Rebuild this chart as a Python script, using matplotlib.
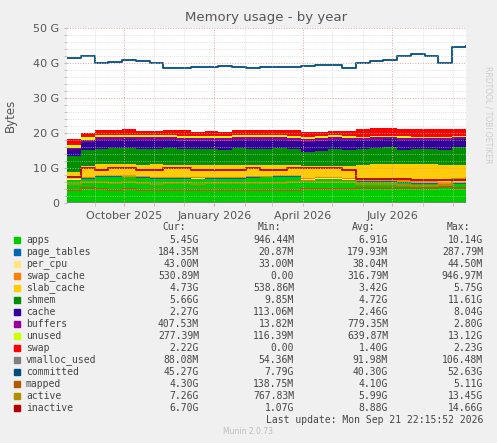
import numpy as np
import pandas as pd
import matplotlib
matplotlib.use("Agg")
import matplotlib.pyplot as plt
import matplotlib.dates as mdates

dates = pd.date_range("2025-08-04", "2026-09-14", freq="14D")  # 30 points

# stacked areas (GB)
apps = [6.5, 7.0, 7.5, 7.5, 7.3, 7.2, 7.0, 7.0, 7.0, 6.8, 7.0, 7.0, 7.0, 7.2, 7.3,
        7.5, 7.5, 6.5, 6.8, 6.8, 6.5, 6.0, 6.0, 6.0, 5.8, 5.5, 5.5, 5.3, 5.4, 5.45]
page_tables = [0.18] * 30
per_cpu = [0.04] * 30
swap_cache = [0.1, 0.3, 0.3, 0.3, 0.35, 0.3, 0.3, 0.35, 0.3, 0.3, 0.3, 0.3, 0.3, 0.3, 0.3,
              0.3, 0.3, 0.3, 0.3, 0.3, 0.35, 0.4, 0.4, 0.4, 0.45, 0.5, 0.5, 0.5, 0.5, 0.53]
slab_cache = [2.0, 3.0, 3.0, 3.2, 3.3, 3.2, 3.5, 3.4, 3.3, 3.5, 3.3, 3.2, 3.3, 3.2, 3.0,
              2.8, 2.8, 3.5, 3.3, 3.3, 3.5, 4.3, 4.5, 4.5, 4.6, 4.8, 4.8, 4.7, 4.8, 4.73]
shmem = [4.5, 4.5, 4.5, 4.5, 4.5, 4.6, 4.5, 4.8, 4.5, 4.6, 4.5, 4.5, 4.8, 4.5, 4.6,
         4.8, 4.5, 4.0, 4.2, 4.8, 4.5, 4.5, 4.5, 4.8, 4.0, 4.5, 4.5, 4.5, 5.0, 5.66]
cache = [2.0, 2.3, 2.5, 2.3, 2.5, 2.4, 2.5, 2.3, 2.5, 2.4, 2.5, 2.5, 2.3, 2.5, 2.5,
         2.3, 2.5, 3.0, 3.0, 2.5, 2.8, 2.5, 2.5, 2.3, 3.0, 2.5, 2.5, 2.8, 2.3, 2.27]
buffers = [0.4, 0.6, 0.8, 0.8, 0.8, 0.8, 0.8, 0.8, 0.8, 0.8, 0.8, 0.8, 0.8, 0.8, 0.8,
           0.8, 0.8, 0.8, 0.8, 0.8, 0.8, 0.6, 0.6, 0.6, 0.6, 0.5, 0.5, 0.5, 0.5, 0.41]
unused = [0.8, 0.8, 0.7, 0.6, 0.6, 0.6, 0.6, 0.6, 0.6, 0.6, 0.6, 0.6, 0.6, 0.6, 0.6,
          0.6, 0.6, 0.6, 0.6, 0.6, 0.6, 0.4, 0.4, 0.4, 0.4, 0.3, 0.3, 0.3, 0.3, 0.28]
swap = [1.8, 1.2, 1.4, 1.5, 1.6, 1.3, 1.2, 1.4, 1.5, 1.2, 1.4, 1.3, 1.5, 1.6, 1.4,
        1.5, 1.6, 1.5, 1.2, 1.3, 1.2, 2.2, 2.2, 2.2, 2.2, 2.2, 2.2, 2.2, 2.2, 2.22]

# lines (GB)
vmalloc_used = [0.09] * 30
committed = [41.5, 42.0, 40.0, 40.2, 41.0, 40.5, 40.0, 38.5, 38.5, 39.0, 39.0, 39.2, 39.0, 38.5, 39.0,
             39.0, 39.0, 39.2, 39.5, 39.5, 38.5, 40.0, 40.5, 41.0, 42.0, 42.5, 42.0, 40.0, 44.5, 45.0]
mapped = [3.8, 4.2, 4.0, 3.8, 3.9, 3.8, 3.7, 3.8, 3.8, 3.8, 3.7, 3.7, 3.8, 3.8, 3.7,
          3.8, 3.8, 4.0, 4.0, 4.0, 4.0, 4.2, 4.2, 4.2, 4.2, 4.3, 4.3, 4.5, 4.3, 4.3]
active = [5.5, 6.0, 6.0, 5.8, 6.0, 5.8, 5.5, 5.8, 5.8, 5.5, 5.7, 5.6, 5.7, 5.8, 5.8,
          5.8, 6.0, 6.2, 6.0, 6.0, 6.0, 5.5, 5.3, 5.3, 5.2, 5.0, 5.0, 5.2, 7.0, 7.26]
inactive = [7.5, 10.0, 9.5, 10.0, 10.0, 9.5, 9.5, 10.0, 10.0, 9.5, 9.5, 9.5, 9.5, 10.0, 9.5,
            9.5, 10.0, 10.0, 10.0, 10.0, 9.5, 7.0, 7.0, 7.0, 7.0, 6.5, 6.5, 6.5, 6.5, 6.7]

names = ["apps", "page_tables", "per_cpu", "swap_cache", "slab_cache", "shmem", "cache",
         "buffers", "unused", "swap", "vmalloc_used", "committed", "mapped", "active", "inactive"]
colors = ["#00CC00", "#0066B3", "#FFE680", "#FF8000", "#FFCC00", "#008F00", "#330099",
          "#990099", "#CCFF00", "#FF0000", "#808080", "#004D80", "#B35A00", "#B38F00", "#B30000"]
cur = ["5.45G", "184.35M", "43.00M", "530.89M", "4.73G", "5.66G", "2.27G", "407.53M",
       "277.39M", "2.22G", "88.08M", "45.27G", "4.30G", "7.26G", "6.70G"]
mins = ["946.44M", "20.87M", "33.00M", "0.00", "538.86M", "9.85M", "113.06M", "13.82M",
        "116.39M", "0.00", "54.36M", "7.79G", "138.75M", "767.83M", "1.07G"]
avgs = ["6.91G", "179.93M", "38.04M", "316.79M", "3.42G", "4.72G", "2.46G", "779.35M",
        "639.87M", "1.40G", "91.98M", "40.30G", "4.10G", "5.99G", "8.88G"]
maxs = ["10.14G", "287.79M", "44.50M", "946.97M", "5.75G", "11.61G", "8.04G", "2.80G",
        "13.12G", "2.23G", "106.48M", "52.63G", "5.11G", "13.45G", "14.66G"]

W, H = 497, 443
fig = plt.figure(figsize=(W / 100, H / 100), dpi=100, facecolor="#F0F0F0")
ax = fig.add_axes([67 / W, 1 - 203 / H, (466 - 67) / W, (203 - 28) / H])
ax.set_facecolor("white")

stack = [apps, page_tables, per_cpu, swap_cache, slab_cache, shmem, cache, buffers, unused, swap]
ax.stackplot(dates, *stack, colors=colors[:10], step="post", linewidth=0)
for vals, c in zip([vmalloc_used, committed, mapped, active, inactive], colors[10:]):
    ax.step(dates, vals, where="post", color=c, linewidth=1.3)

ax.set_xlim(pd.Timestamp("2025-08-04"), dates[-1])
ax.set_ylim(0, 50)
ax.set_yticks(range(0, 51, 10))
ax.set_yticklabels(["0", "10 G", "20 G", "30 G", "40 G", "50 G"])
ax.set_yticks(range(0, 51, 2), minor=True)
ax.xaxis.set_major_locator(mdates.MonthLocator(bymonth=[1, 4, 7, 10]))
ax.xaxis.set_major_formatter(mdates.DateFormatter("%B %Y"))
ax.xaxis.set_minor_locator(mdates.MonthLocator())
ax.grid(True, which="major", color="#E8A0A0", linestyle=":", linewidth=0.7)
ax.grid(True, which="minor", color="#CCCCCC", linestyle=":", linewidth=0.5)
ax.set_axisbelow(False)
for s in ax.spines.values():
    s.set_visible(False)
ax.tick_params(which="both", length=2, color="#BBBBBB", labelsize=8, labelcolor="#555555")
ax.set_ylabel("Bytes", fontsize=8.5, color="#555555", labelpad=12)
ax.set_title("Memory usage - by year", fontsize=9.5, color="#555555", pad=5)
fig.text(488 / W, 1 - 115 / H, "RRDTOOL / TOBI OETIKER", rotation=270, fontsize=5.5,
         color="#CCCCCC", ha="center", va="center")

mono = "DejaVu Sans Mono"
y0 = 227
fig.text(186 / W, 1 - y0 / H, "Cur:", family=mono, fontsize=7, color="#444444", ha="right", va="center")
fig.text(281 / W, 1 - y0 / H, "Min:", family=mono, fontsize=7, color="#444444", ha="right", va="center")
fig.text(375 / W, 1 - y0 / H, "Avg:", family=mono, fontsize=7, color="#444444", ha="right", va="center")
fig.text(470 / W, 1 - y0 / H, "Max:", family=mono, fontsize=7, color="#444444", ha="right", va="center")
for i, n in enumerate(names):
    y = 1 - (240 + i * 12) / H
    fig.patches.append(plt.Rectangle((14 / W, y - 3 / H), 6 / W, 6 / H, color=colors[i],
                                     transform=fig.transFigure, figure=fig))
    fig.text(26 / W, y, n, family=mono, fontsize=7, color="#444444", va="center")
    for xr, v in zip([199, 294, 388, 483], [cur[i], mins[i], avgs[i], maxs[i]]):
        fig.text(xr / W, y, v, family=mono, fontsize=7, color="#444444", ha="right", va="center")
fig.text(483 / W, 1 - 420 / H, "Last update: Mon Sep 21 22:15:52 2026", family=mono,
         fontsize=7, color="#444444", ha="right", va="center")
fig.text(248 / W, 1 - 432 / H, "Munin 2.0.73", fontsize=5.5, color="#BBBBBB", ha="center", va="center")

fig.savefig("out.png", dpi=100, facecolor=fig.get_facecolor())
